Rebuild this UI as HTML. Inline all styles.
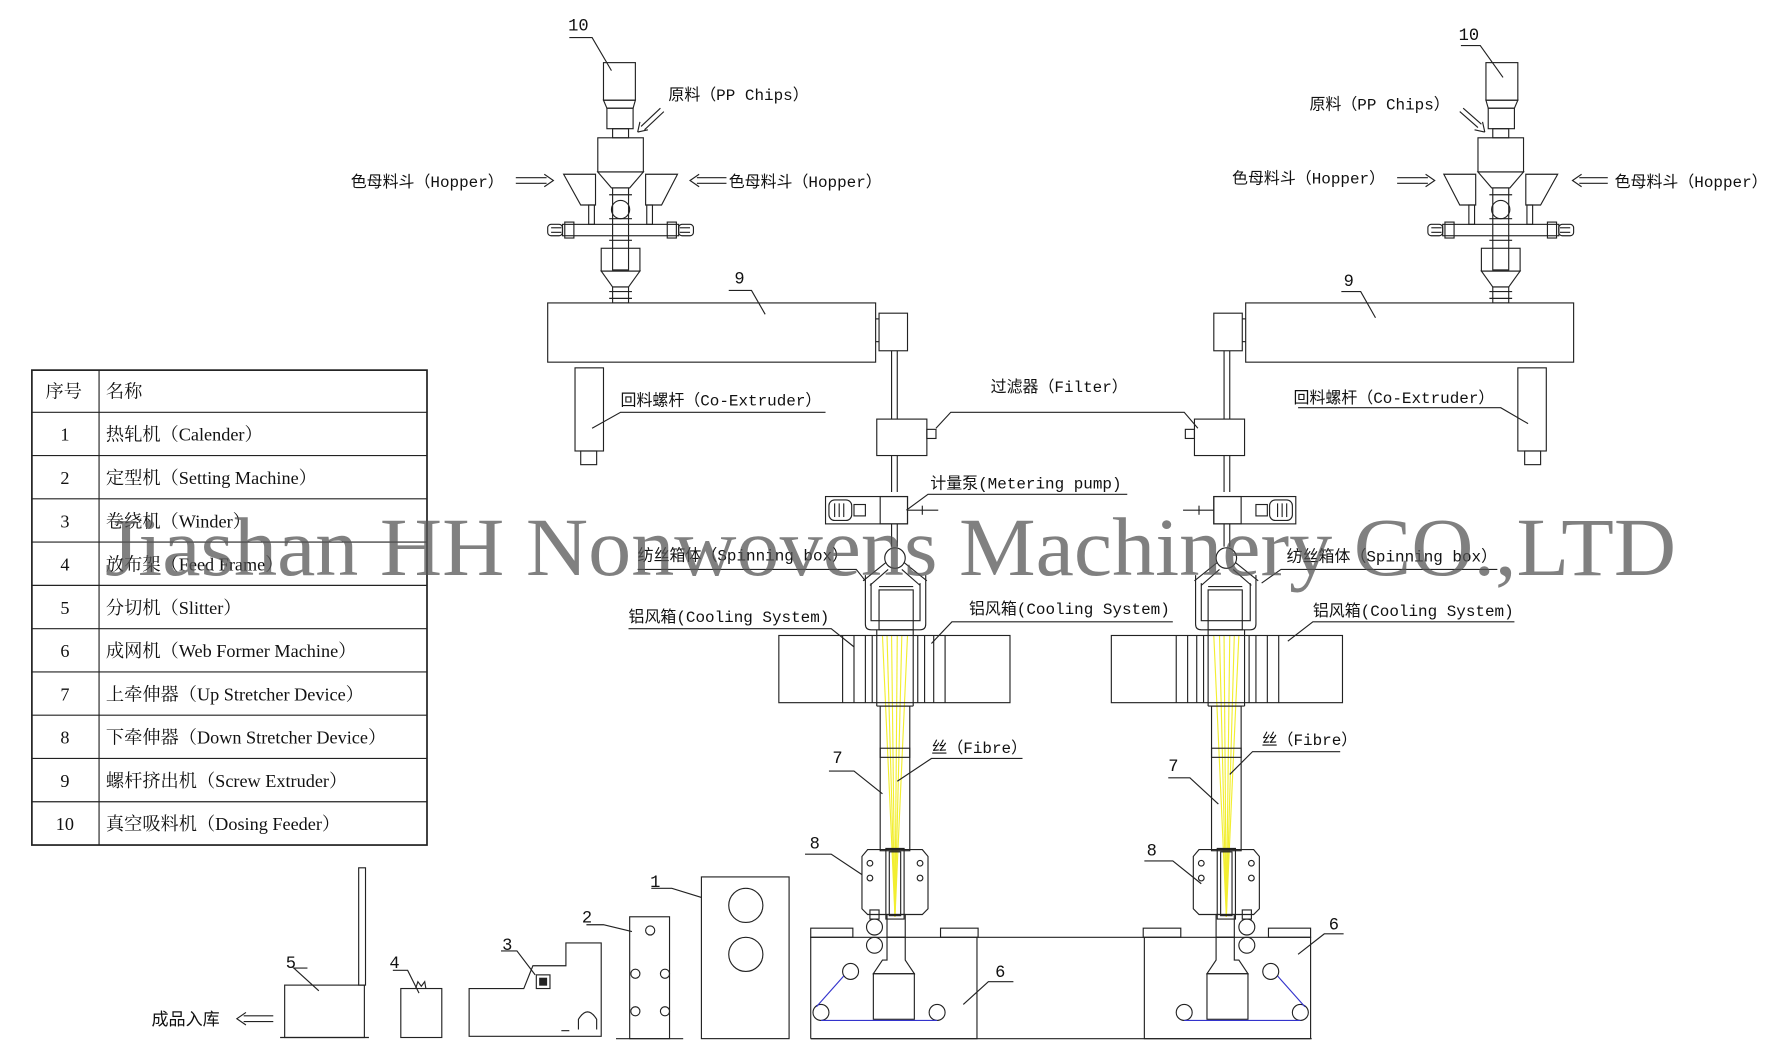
<!DOCTYPE html>
<html><head><meta charset="utf-8"><style>
html,body{margin:0;padding:0;background:#fff;}
svg{display:block}
text{font-family:"Liberation Serif","Noto Serif CJK SC",serif;fill:#111;}
.m text{font-family:"Liberation Mono","Noto Sans CJK SC",monospace;}
</style></head><body>
<svg width="1782" height="1058" viewBox="0 0 1565 929" preserveAspectRatio="none" xmlns="http://www.w3.org/2000/svg">
<defs>
<g id="tower" fill="none" stroke="#222" stroke-width="1">
  <rect x="530" y="55" width="28" height="33"/>
  <polygon points="530,88 558,88 556,95 533,95"/>
  <rect x="533" y="95" width="23" height="18"/>
  <rect x="538" y="113" width="14" height="8"/>
  <rect x="525" y="121" width="40" height="30"/>
  <polygon points="525,151 565,151 553,165 537,165"/>
  <rect x="538" y="165" width="14" height="72"/>
  <line x1="535" y1="171" x2="555" y2="171"/><line x1="535" y1="192" x2="555" y2="192"/><line x1="535" y1="211" x2="555" y2="211"/>
  <circle cx="545" cy="184" r="8"/>
  <polygon points="495,153 523,153 523,180 510,180"/>
  <rect x="517" y="180" width="5" height="17"/>
  <polygon points="567,153 595,153 581,180 567,180"/>
  <rect x="568" y="180" width="5" height="17"/>
  <rect x="494" y="197" width="102" height="10"/>
  <rect x="481" y="197" width="13" height="10" rx="3"/><rect x="496" y="195" width="8" height="14"/>
  <rect x="596" y="197" width="13" height="10" rx="3"/><rect x="586" y="195" width="8" height="14"/>
  <line x1="484" y1="200" x2="493" y2="200"/><line x1="484" y1="204" x2="493" y2="204"/>
  <line x1="597" y1="200" x2="606" y2="200"/><line x1="597" y1="204" x2="606" y2="204"/>
  <rect x="528" y="218" width="34" height="20"/>
  <polygon points="528,238 562,238 552,252 538,252"/>
  <rect x="538" y="252" width="14" height="14"/>
  <line x1="535" y1="256" x2="555" y2="256"/><line x1="535" y1="262" x2="555" y2="262"/>
  <rect x="481" y="266" width="288" height="52"/>
  <rect x="772" y="275" width="25" height="33"/>
  <line x1="769" y1="280" x2="772" y2="280"/><line x1="769" y1="300" x2="772" y2="300"/>
  <line x1="783" y1="308" x2="783" y2="368"/><line x1="788" y1="308" x2="788" y2="368"/>
  <rect x="505" y="323" width="25" height="73"/>
  <rect x="510" y="396" width="14" height="12"/>
  <rect x="770" y="368" width="44" height="32"/>
  <rect x="814" y="377" width="8" height="8"/>
  <line x1="783" y1="400" x2="783" y2="432"/><line x1="788" y1="400" x2="788" y2="432"/>
  <rect x="725" y="436" width="72" height="24"/>
  <rect x="728" y="439" width="20" height="18" rx="5"/>
  <line x1="733" y1="442" x2="733" y2="454"/><line x1="737" y1="442" x2="737" y2="454"/><line x1="741" y1="442" x2="741" y2="454"/>
  <rect x="750" y="443" width="10" height="10"/>
  <rect x="773" y="436" width="24" height="24"/>
  <line x1="797" y1="448" x2="824" y2="448"/><line x1="810" y1="444" x2="810" y2="452"/>
  <line x1="783" y1="460" x2="783" y2="480"/><line x1="788" y1="460" x2="788" y2="480"/>
  <circle cx="786" cy="490" r="9"/>
  <polyline points="758,510 778,494"/><polyline points="764,514 780,500"/>
  <polyline points="814,510 794,494"/><polyline points="808,514 792,500"/>
  <path d="M760,505 V548 Q760,553 765,553 H808 Q813,553 813,548 V505"/>
  <path d="M765,512 V545 H808 V512"/>
  <rect x="772" y="518" width="30" height="35"/>
  <line x1="772" y1="515" x2="802" y2="515"/>
  <rect x="684" y="558" width="203" height="59"/>
  <line x1="740" y1="558" x2="740" y2="617"/><line x1="750" y1="558" x2="750" y2="617"/>
  <line x1="760" y1="558" x2="760" y2="617"/><line x1="766" y1="558" x2="766" y2="617"/>
  <line x1="770" y1="553" x2="770" y2="620"/><line x1="802" y1="553" x2="802" y2="620"/>
  <line x1="806" y1="558" x2="806" y2="617"/><line x1="812" y1="558" x2="812" y2="617"/>
  <line x1="820" y1="558" x2="820" y2="617"/><line x1="830" y1="558" x2="830" y2="617"/>
  <line x1="770" y1="620" x2="802" y2="620"/>
  <rect x="773" y="620" width="26" height="127"/>
  <rect x="773" y="657" width="26" height="8"/>
  <polygon points="762,746 810,746 815,752 815,798 810,803 762,803 757,798 757,752"/>
  <rect x="778" y="745" width="16" height="62"/>
  <rect x="781" y="748" width="10" height="56"/>
  <circle cx="764" cy="758" r="2.5"/><circle cx="764" cy="771" r="2.5"/>
  <circle cx="808" cy="758" r="2.5"/><circle cx="808" cy="771" r="2.5"/>
  <circle cx="768" cy="814" r="7"/><circle cx="768" cy="830" r="7"/>
  <rect x="764" y="799" width="8" height="8"/>
  <polyline points="712,912 712,823 858,823 858,912 712,912"/>
  <rect x="712" y="815" width="37" height="8"/><rect x="826" y="815" width="33" height="8"/>
  <rect x="779" y="803" width="16" height="20"/>
  <polygon points="779,823 795,823 795,843 803,855 767,855 775,843 779,843"/>
  <rect x="767" y="855" width="36" height="40"/>
  <circle cx="747" cy="853" r="7"/><circle cx="721" cy="889" r="7"/><circle cx="823" cy="889" r="7"/>
  <polyline points="741,857 717,884" stroke="#33c"/>
  <line x1="721" y1="896" x2="823" y2="896" stroke="#33c"/>
</g>
<g id="fib" stroke="#f2ee30" stroke-width="1" fill="none">
  <line x1="775" y1="558" x2="786" y2="805"/><line x1="779" y1="558" x2="786" y2="805"/>
  <line x1="783" y1="558" x2="786" y2="805"/><line x1="788" y1="558" x2="786" y2="805"/>
  <line x1="792" y1="558" x2="786" y2="805"/><line x1="797" y1="558" x2="786" y2="805"/>
</g>
</defs>

<use href="#fib"/><use href="#fib" transform="translate(1863,0) scale(-1,1)"/>
<use href="#tower"/>
<use href="#tower" transform="translate(1863,0) scale(-1,1)"/>
<g fill="none" stroke="#222" stroke-width="1">
  <line x1="858" y1="823" x2="1005" y2="823"/>
  <line x1="712" y1="912" x2="1152" y2="912"/>
  <polyline points="500,33 520,33 537,62"/>
  <polyline points="640,255 660,255 672,276"/>
  <polyline points="725,362 545,362 520,376"/>
  <polyline points="822,376 835,362 1040,362 1052,376"/>
  <polyline points="990,434 815,434 796,448"/>
  <polyline points="560,500 752,500 760,510"/>
  <polyline points="552,552 730,552 750,568"/>
  <polyline points="1030,546 836,546 818,565"/>
  <polyline points="728,677 750,677 775,697"/>
  <polyline points="898,666 818,666 788,686"/>
  <polyline points="707,750 730,750 757,768"/>
  <polyline points="890,862 868,862 846,882"/>
  <polyline points="1283,40 1300,40 1320,68"/>
  <polyline points="1178,256 1195,256 1208,279"/>
  <polyline points="1140,358 1318,358 1342,372"/>
  <polyline points="1315,500 1125,500 1108,512"/>
  <polyline points="1330,546 1153,546 1131,563"/>
  <polyline points="1177,660 1100,660 1080,680"/>
  <polyline points="1026,683 1045,683 1070,706"/>
  <polyline points="1005,756 1030,756 1055,776"/>
  <polyline points="1180,820 1163,820 1140,838"/>
  <path d="M583,98 L566,114 M580,95 L563,111 M560,116 l2,-9 m-2,9 l9,-2"/>
  <path d="M1282,98 L1298,112 M1285,95 L1301,109 M1304,116 l-2,-9 m2,9 l-9,-2"/>
  <path d="M453,156 H480 M453,161 H480 M478,153 L486,158.5 L478,164"/>
  <path d="M612,156 H638 M612,161 H638 M614,153 L606,158.5 L614,164"/>
  <path d="M1227,156 H1254 M1227,161 H1254 M1252,153 L1260,158.5 L1252,164"/>
  <path d="M1387,156 H1412 M1387,161 H1412 M1389,153 L1381,158.5 L1389,164"/>
  <path d="M214,892 H240 M214,897 H240 M216,889 L208,894.5 L216,900"/>
  <rect x="250" y="865" width="70" height="46"/>
  <rect x="315" y="762" width="6" height="103"/>
  <line x1="246" y1="911" x2="324" y2="911"/>
  <polyline points="270,850 258,850 280,870"/>
  <rect x="352" y="868" width="36" height="43"/>
  <path d="M365,868 l2,-6 l3,4 l3,-4 l1,6"/>
  <polyline points="345,852 358,852 368,872"/>
  <path d="M412,910 V868 H460 L468,848 H497 V828 H528 V910 Z"/>
  <rect x="471" y="856" width="12" height="12"/><rect x="474" y="859" width="6" height="6" fill="#222"/>
  <path d="M508,904 V895 Q516,882 524,895 V904"/>
  <line x1="493" y1="905" x2="500" y2="905"/>
  <polyline points="440,835 454,835 470,856"/>
  <rect x="553" y="805" width="35" height="107"/>
  <circle cx="571" cy="817" r="4"/><circle cx="558" cy="855" r="4"/><circle cx="584" cy="855" r="4"/><circle cx="558" cy="888" r="4"/><circle cx="584" cy="888" r="4"/>
  <line x1="541" y1="912" x2="600" y2="912"/>
  <polyline points="515,812 530,812 555,818"/>
  <rect x="616" y="770" width="77" height="142"/>
  <circle cx="655" cy="795" r="15"/><circle cx="655" cy="838" r="15"/>
  <polyline points="572,780 590,780 616,788"/>
  <rect x="28" y="325" width="347" height="417" stroke-width="1.5"/>
  <line x1="87" y1="325" x2="87" y2="742"/>
  <line x1="28" y1="362" x2="375" y2="362"/><line x1="28" y1="400" x2="375" y2="400"/>
  <line x1="28" y1="438" x2="375" y2="438"/><line x1="28" y1="476" x2="375" y2="476"/>
  <line x1="28" y1="514" x2="375" y2="514"/><line x1="28" y1="552" x2="375" y2="552"/>
  <line x1="28" y1="590" x2="375" y2="590"/><line x1="28" y1="628" x2="375" y2="628"/>
  <line x1="28" y1="666" x2="375" y2="666"/><line x1="28" y1="704" x2="375" y2="704"/>
</g>

<g font-size="16">
<text x="40" y="349">序号</text><text x="93" y="349">名称</text>
<g text-anchor="middle">
<text x="57" y="387">1</text><text x="57" y="425">2</text><text x="57" y="463">3</text><text x="57" y="501">4</text><text x="57" y="539">5</text><text x="57" y="577">6</text><text x="57" y="615">7</text><text x="57" y="653">8</text><text x="57" y="691">9</text><text x="57" y="729">10</text>
</g>
<text x="93" y="387">热轧机（Calender）</text>
<text x="93" y="425">定型机（Setting Machine）</text>
<text x="93" y="463">卷绕机（Winder）</text>
<text x="93" y="501">放布架（Feed Frame）</text>
<text x="93" y="539">分切机（Slitter）</text>
<text x="93" y="577">成网机（Web Former Machine）</text>
<text x="93" y="615">上牵伸器（Up Stretcher Device）</text>
<text x="93" y="653">下牵伸器（Down Stretcher Device）</text>
<text x="93" y="691">螺杆挤出机（Screw Extruder）</text>
<text x="93" y="729">真空吸料机（Dosing Feeder）</text>
</g>

<g font-size="14" class="m">
<text x="499" y="27" font-size="15">10</text>
<text x="587" y="88">原料（PP Chips）</text>
<text x="308" y="164">色母料斗（Hopper）</text>
<text x="640" y="164">色母料斗（Hopper）</text>
<text x="645" y="249" font-size="15">9</text>
<text x="545" y="356">回料螺杆（Co-Extruder）</text>
<text x="870" y="344">过滤器（Filter）</text>
<text x="817" y="429">计量泵(Metering pump)</text>
<text x="560" y="492">纺丝箱体（Spinning box）</text>
<text x="552" y="546">铝风箱(Cooling System)</text>
<text x="851" y="539">铝风箱(Cooling System)</text>
<text x="818" y="661">丝（Fibre）</text>
<text x="731" y="670" font-size="15">7</text>
<text x="711" y="745" font-size="15">8</text>
<text x="874" y="858" font-size="15">6</text>
<text x="1281" y="35" font-size="15">10</text>
<text x="1150" y="96">原料（PP Chips）</text>
<text x="1082" y="161">色母料斗（Hopper）</text>
<text x="1418" y="164">色母料斗（Hopper）</text>
<text x="1180" y="251" font-size="15">9</text>
<text x="1136" y="354">回料螺杆（Co-Extruder）</text>
<text x="1130" y="493">纺丝箱体（Spinning box）</text>
<text x="1153" y="541">铝风箱(Cooling System)</text>
<text x="1108" y="654">丝（Fibre）</text>
<text x="1026" y="677" font-size="15">7</text>
<text x="1007" y="751" font-size="15">8</text>
<text x="1167" y="816" font-size="15">6</text>
<text x="251" y="850" font-size="15">5</text>
<text x="342" y="850" font-size="15">4</text>
<text x="441" y="834" font-size="15">3</text>
<text x="511" y="810" font-size="15">2</text>
<text x="571" y="779" font-size="15">1</text>
<text x="133" y="900" font-size="15">成品入库</text>
</g>

<text x="92" y="505" font-size="73" textLength="1380" lengthAdjust="spacingAndGlyphs" style="fill:#555;fill-opacity:0.75">Jiashan HH Nonwovens Machinery CO.,LTD</text>
</svg>
</body></html>
